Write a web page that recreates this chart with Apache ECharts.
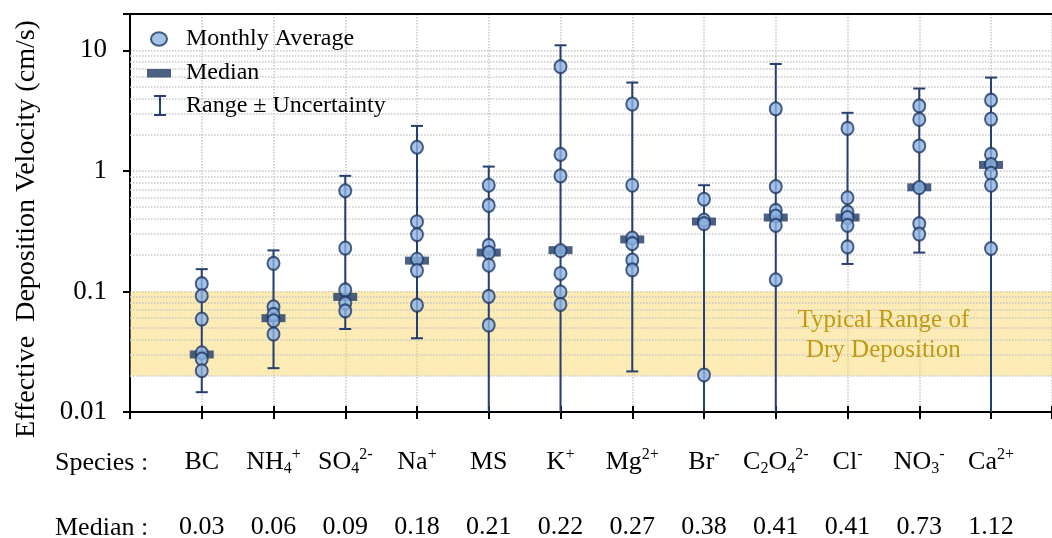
<!DOCTYPE html>
<html>
<head>
<meta charset="utf-8">
<script src="https://cdn.jsdelivr.net/npm/echarts@6/dist/echarts.min.js"></script>
<style>
  html, body { margin: 0; padding: 0; background: #fff; }
  #chart { width: 1052px; height: 538px; }
</style>
</head>
<body>
<div id="chart"></div>
<script>
// species labels (rich text markup for sub/superscripts)
const species = [
  'BC', 'NH{sub|4}{sup|+}', 'SO{sub|4}{sup|2-}', 'Na{sup|+}', 'MS', 'K{sup|+}',
  'Mg{sup|2+}', 'Br{sup|-}', 'C{sub|2}O{sub|4}{sup|2-}', 'Cl{sup|-}', 'NO{sub|3}{sup|-}', 'Ca{sup|2+}'
];
const medians = [0.03, 0.06, 0.09, 0.18, 0.21, 0.22, 0.27, 0.38, 0.41, 0.41, 0.73, 1.12];
// range +- uncertainty, low end below 0.01 runs off the axis
const rangeLow = [0.0146, 0.0231, 0.0488, 0.0409, 0.005, 0.005, 0.0217, 0.005, 0.005, 0.169, 0.21, 0.005];
const rangeHigh = [0.153, 0.219, 0.909, 2.36, 1.085, 11.0, 5.4, 0.76, 7.7, 3.03, 4.82, 5.94];
// monthly averages per species
const monthly = [
  [0.116, 0.092, 0.059, 0.031, 0.0275, 0.022],
  [0.171, 0.0746, 0.0645, 0.0572, 0.0443],
  [0.684, 0.229, 0.103, 0.080, 0.069],
  [1.57, 0.379, 0.296, 0.185, 0.149, 0.077],
  [0.76, 0.517, 0.241, 0.21, 0.165, 0.091, 0.0526],
  [7.32, 1.37, 0.91, 0.218, 0.141, 0.099, 0.078],
  [3.58, 0.76, 0.277, 0.249, 0.182, 0.151],
  [0.582, 0.391, 0.365, 0.0203],
  [3.27, 0.741, 0.47, 0.422, 0.353, 0.125],
  [2.25, 0.598, 0.455, 0.41, 0.353, 0.234],
  [3.46, 2.67, 1.61, 0.727, 0.365, 0.299],
  [3.86, 2.69, 1.37, 1.13, 0.955, 0.76, 0.227]
];
const bandRange = [0.02, 0.1];
const decades = [0.01, 0.1, 1, 10];

const FONT = '"Liberation Serif", "Times New Roman", serif';
const NAVY = '#1f3864';
const LINE = '#253f70';
const GRID = '#c8c8c8';

// minor gridlines at 2..9 of each decade
const gridLevels = [];
decades.forEach(d => {
  for (let k = 2; k <= 9; k++) {
    const v = +(d * k).toPrecision(3);
    if (v < 20) gridLevels.push(v);
  }
});

const rangeData = species.map((s, i) => [i + 1, rangeLow[i], rangeHigh[i]]);
const medianData = medians.map((m, i) => [i + 1, m]);
const pointData = [];
monthly.forEach((arr, i) => arr.forEach(v => pointData.push([i + 1, v])));

const chart = echarts.init(document.getElementById('chart'));

const xCommon = { type: 'value', min: 0, max: 12.85, interval: 1 };

const option = {
  animation: false,
  textStyle: { fontFamily: FONT },
  grid: { left: 130, right: 0, top: 14, bottom: 126, outerBoundsMode: 'none', containLabel: false },
  legend: {
    orient: 'vertical',
    left: 140,
    top: 21,
    itemWidth: 26,
    itemHeight: 24,
    itemGap: 9,
    textStyle: { fontFamily: FONT, fontSize: 24, color: '#000', padding: [0, 0, 0, 9] },
    data: [
      { name: 'Monthly Average', icon: 'path://M0,0M26,24M5,12a8,6.8 0 1,0 16,0a8,6.8 0 1,0 -16,0z' },
      { name: 'Median', icon: 'path://M0,0M26,24M1,8h24v8.5h-24z' },
      { name: 'Range ± Uncertainty', icon: 'path://M0,0M26,24M8,1h12v2h-12zM13,1h2v21h-2zM8,20h12v2h-12z' }
    ]
  },
  xAxis: [
    Object.assign({}, xCommon, {
      position: 'bottom',
      axisLine: { lineStyle: { color: '#000', width: 2 } },
      axisTick: { show: true, length: 7, lineStyle: { color: '#000', width: 2 } },
      splitLine: { show: true, lineStyle: { color: GRID, type: 'dotted', width: 1.5 } },
      axisLabel: {
        margin: 35,
        color: '#000',
        fontFamily: FONT,
        fontSize: 26,
        lineHeight: 30,
        hideOverlap: false,
        formatter: function (v) {
          if (!Number.isInteger(v) || v < 1 || v > species.length) return '';
          return species[v - 1] + '\n{md|' + medians[v - 1].toFixed(2) + '}';
        },
        rich: {
          sub: { fontSize: 16, lineHeight: 14, verticalAlign: 'bottom', fontFamily: FONT, color: '#000' },
          sup: { fontSize: 16, lineHeight: 18, verticalAlign: 'top', fontFamily: FONT, color: '#000' },
          md: { fontSize: 26, lineHeight: 100, fontFamily: FONT, color: '#000' }
        }
      }
    }),
    Object.assign({}, xCommon, {
      position: 'bottom',
      axisLine: { show: false },
      axisTick: { show: true, inside: true, length: 6, lineStyle: { color: '#000', width: 2 } },
      axisLabel: { show: false },
      splitLine: { show: false }
    }),
    Object.assign({}, xCommon, {
      position: 'top',
      axisLine: { show: true, lineStyle: { color: '#000', width: 2 } },
      axisTick: { show: false },
      axisLabel: { show: false },
      splitLine: { show: false }
    })
  ],
  yAxis: {
    type: 'log',
    logBase: 10,
    min: 0.01,
    max: 20,
    axisLine: { show: true, lineStyle: { color: '#000', width: 2 } },
    axisTick: { show: true, length: 7, lineStyle: { color: '#000', width: 2 } },
    splitLine: { show: true, lineStyle: { color: GRID, type: 'dotted', width: 1.5 } },
    axisLabel: {
      margin: 23,
      color: '#000',
      fontFamily: FONT,
      fontSize: 27,
      formatter: function (v) {
        const l = Math.log10(v);
        return Math.abs(l - Math.round(l)) < 1e-6 ? String(+v.toPrecision(2)) : '';
      }
    }
  },
  graphic: [
    {
      type: 'text',
      x: 27,
      y: 229,
      rotation: Math.PI / 2,
      style: {
        text: 'Effective  Deposition Velocity (cm/s)',
        font: '28px ' + FONT,
        fill: '#000',
        align: 'center',
        verticalAlign: 'middle'
      }
    },
    {
      type: 'text',
      x: 55,
      y: 463,
      style: { text: 'Species :', font: '26px ' + FONT, fill: '#000', align: 'left', verticalAlign: 'middle' }
    },
    {
      type: 'text',
      x: 55,
      y: 528,
      style: { text: 'Median :', font: '26px ' + FONT, fill: '#000', align: 'left', verticalAlign: 'middle' }
    }
  ],
  series: [
    {
      name: 'band',
      type: 'line',
      data: [],
      z: 1,
      silent: true,
      markArea: {
        silent: true,
        z: 1,
        itemStyle: { color: 'rgba(251, 210, 90, 0.45)' },
        data: [[{ yAxis: bandRange[0] }, { yAxis: bandRange[1] }]]
      },
      markLine: {
        silent: true,
        z: 1,
        symbol: ['none', 'none'],
        label: { show: false },
        lineStyle: { color: GRID, type: 'dotted', width: 1.5 },
        data: gridLevels.map(v => ({ yAxis: v }))
      },
      markPoint: {
        silent: true,
        z: 2,
        symbol: 'circle',
        symbolSize: 0,
        label: {
          show: true,
          position: 'inside',
          formatter: 'Typical Range of\nDry Deposition',
          color: '#bf9a12',
          fontFamily: FONT,
          fontSize: 25,
          lineHeight: 30
        },
        data: [{ coord: [10.5, 0.0435] }]
      }
    },
    {
      name: 'Range ± Uncertainty',
      type: 'custom',
      z: 3,
      clip: true,
      itemStyle: { color: LINE },
      data: rangeData,
      renderItem: function (params, api) {
        const x = api.value(0);
        const lo = api.coord([x, api.value(1)]);
        const hi = api.coord([x, api.value(2)]);
        const cap = 6;
        const style = { stroke: LINE, lineWidth: 2 };
        return {
          type: 'group',
          children: [
            { type: 'line', shape: { x1: lo[0], y1: lo[1], x2: hi[0], y2: hi[1] }, style: style },
            { type: 'line', shape: { x1: hi[0] - cap, y1: hi[1], x2: hi[0] + cap, y2: hi[1] }, style: style },
            { type: 'line', shape: { x1: lo[0] - cap, y1: lo[1], x2: lo[0] + cap, y2: lo[1] }, style: style }
          ]
        };
      }
    },
    {
      name: 'Median',
      type: 'scatter',
      z: 4,
      symbol: 'rect',
      symbolSize: [24, 8],
      itemStyle: { color: NAVY },
      data: medianData
    },
    {
      name: 'Monthly Average',
      type: 'scatter',
      z: 5,
      symbol: 'circle',
      symbolSize: [12, 13],
      itemStyle: { color: '#8eb4e3', borderColor: NAVY, borderWidth: 2 },
      data: pointData
    }
  ]
};

chart.setOption(option);
</script>
</body>
</html>
